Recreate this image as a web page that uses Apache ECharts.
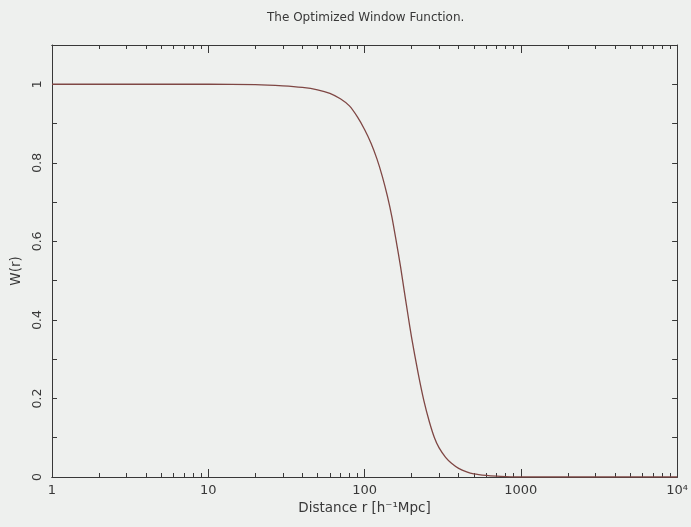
<!DOCTYPE html>
<html>
<head>
<meta charset="utf-8">
<script src="https://cdn.jsdelivr.net/npm/echarts@6/dist/echarts.min.js"></script>
<style>
  html, body { margin: 0; padding: 0; background: #eef0ee; }
  #chart { width: 691px; height: 527px; }
</style>
</head>
<body>
<div id="chart"></div>
<script>
// Separation r in h^-1 Mpc and the window function W(r)
const distance = [1, 2, 5, 10, 20, 30, 40, 50, 60, 70, 80, 90, 100, 110, 120, 130, 140, 150, 160,
  170, 180, 190, 200, 220, 240, 260, 280, 300, 330, 360, 400, 450, 500, 600, 700, 800, 1000,
  2000, 5000, 10000];
const windowW = [1, 1, 1, 1, 0.999, 0.996, 0.992, 0.986, 0.977, 0.963, 0.945, 0.917, 0.885, 0.85,
  0.81, 0.765, 0.715, 0.66, 0.597, 0.535, 0.47, 0.41, 0.355, 0.265, 0.193, 0.14, 0.10, 0.074,
  0.05, 0.035, 0.022, 0.013, 0.008, 0.004, 0.002, 0.001, 0, 0, 0, 0];

// Axis ticks and labels
const decadeTicks = [1, 10, 100, 1000, 10000];
const decadeLabels = ['1', '10', '100', '1000', '10\u2074'];
const minorTicks = [];
for (const d of [1, 10, 100, 1000]) {
  for (let k = 2; k <= 9; k++) minorTicks.push(d * k);
}
const yLabelValues = [0, 0.2, 0.4, 0.6, 0.8, 1];

const ink = '#383838';
const font = 'DejaVu Sans';

function xAxisDef(position, ticks, len, extra) {
  return Object.assign({
    type: 'log', logBase: 10, min: 1, max: 10000, position: position,
    axisLine: { show: true, lineStyle: { color: ink, width: 1 } },
    axisTick: { show: true, inside: true, length: len, customValues: ticks, lineStyle: { color: ink, width: 1 } },
    axisLabel: { show: false },
    splitLine: { show: false }
  }, extra || {});
}

const xAxes = [
  xAxisDef('bottom', decadeTicks, 8, {
    name: 'Distance r [h\u207B\u00B9Mpc]', nameLocation: 'middle', nameGap: 24,
    nameTextStyle: { color: ink, fontFamily: font, fontSize: 13.5 },
    axisLabel: {
      show: true, customValues: decadeTicks, margin: 7, color: ink, fontFamily: font, fontSize: 13,
      formatter: v => decadeLabels[decadeTicks.indexOf(Math.round(v))] || ''
    }
  }),
  xAxisDef('bottom', minorTicks, 4),
  xAxisDef('top', decadeTicks, 8),
  xAxisDef('top', minorTicks, 4)
];

function yAxisDef(position, extra) {
  return Object.assign({
    type: 'value', min: 0, max: 1.1, interval: 0.1, position: position,
    axisLine: { show: true, lineStyle: { color: ink, width: 1 } },
    axisTick: { show: true, inside: true, length: 5, lineStyle: { color: ink, width: 1 } },
    axisLabel: { show: false },
    splitLine: { show: false }
  }, extra || {});
}

const yAxes = [
  yAxisDef('left', {
    name: 'W(r)', nameLocation: 'middle', nameGap: 27, nameRotate: 90,
    nameTextStyle: { color: ink, fontFamily: font, fontSize: 13.5, padding: [0, 20, 0, 0] },
    axisLabel: {
      show: true, customValues: yLabelValues, rotate: 90, margin: 8, color: ink,
      fontFamily: font, fontSize: 12.5, formatter: v => String(+v.toFixed(1))
    }
  }),
  yAxisDef('right')
];

const chart = echarts.init(document.getElementById('chart'), null, { renderer: 'canvas' });
chart.setOption({
  backgroundColor: '#eef0ee',
  animation: false,
  title: {
    text: 'The Optimized Window Function.', left: 262, top: 7,
    textStyle: { color: ink, fontFamily: font, fontSize: 12, fontWeight: 'normal' }
  },
  grid: { left: 52, right: 6, top: 45, bottom: 50, containLabel: false },
  xAxis: xAxes,
  yAxis: yAxes,
  series: [{
    type: 'line', xAxisIndex: 0, yAxisIndex: 0, showSymbol: false, smooth: 0.2,
    lineStyle: { color: '#7f4744', width: 1.3 },
    data: distance.map((r, i) => [r, windowW[i]])
  }]
});
</script>
</body>
</html>
